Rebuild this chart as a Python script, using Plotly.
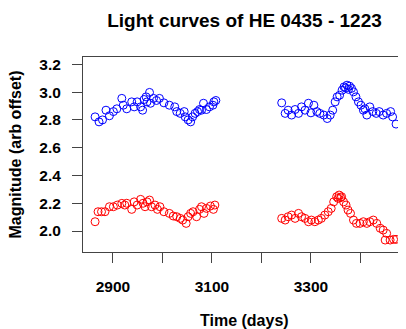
import plotly.graph_objects as go

# Blue light curve (upper)
blue_t = [2864, 2872, 2879, 2886, 2893, 2901, 2908, 2918, 2921, 2928, 2938, 2943, 2949, 2956, 2960,
          2963, 2967, 2969, 2974, 2976, 2982, 2988, 2994, 3003, 3014, 3025, 3029, 3036, 3044, 3046,
          3052, 3057, 3061, 3066, 3071, 3075, 3079, 3083, 3089, 3095, 3102, 3104, 3108,
          3241, 3248, 3254, 3261, 3268, 3275, 3281, 3288, 3295, 3300, 3306, 3312, 3318, 3326, 3333,
          3339, 3344, 3349, 3353, 3358, 3363, 3367, 3370, 3373, 3376, 3378, 3382, 3386, 3391, 3396,
          3401, 3406, 3409, 3413, 3419, 3425, 3432, 3438, 3446, 3453, 3461, 3465, 3472]
blue_m = [2.822, 2.786, 2.800, 2.870, 2.830, 2.860, 2.880, 2.955, 2.906, 2.880, 2.930, 2.894, 2.930, 2.894, 2.870,
          2.947, 2.966, 2.930, 2.998, 2.920, 2.955, 2.940, 2.955, 2.923, 2.906, 2.894, 2.860, 2.847, 2.860, 2.822,
          2.800, 2.786, 2.822, 2.847, 2.860, 2.875, 2.870, 2.920, 2.875, 2.894, 2.906, 2.930, 2.940,
          2.923, 2.847, 2.870, 2.835, 2.875, 2.847, 2.894, 2.870, 2.920, 2.851, 2.906, 2.860, 2.847, 2.835, 2.810,
          2.835, 2.870, 2.930, 2.966, 2.978, 3.014, 3.038, 3.030, 3.050, 3.020, 3.043, 3.027, 3.002, 2.966, 2.930,
          2.906, 2.870, 2.880, 2.835, 2.894, 2.860, 2.847, 2.860, 2.835, 2.847, 2.860, 2.822, 2.770]

# Red light curve (lower)
red_t = [2864, 2870, 2877, 2884, 2893, 2901, 2909, 2918, 2924, 2928, 2938, 2943, 2949, 2956, 2961,
         2965, 2969, 2974, 2978, 2985, 2990, 2995, 3003, 3014, 3022, 3029, 3036, 3041, 3048, 3052,
         3057, 3062, 3069, 3075, 3079, 3084, 3089, 3097, 3103, 3106,
         3241, 3248, 3254, 3261, 3268, 3275, 3281, 3288, 3295, 3301, 3308, 3315, 3321, 3328, 3335,
         3341, 3346, 3352, 3355, 3357, 3360, 3362, 3366, 3371, 3375, 3380, 3386, 3392, 3399, 3406,
         3413, 3419, 3426, 3433, 3440, 3446, 3450, 3453, 3460, 3467, 3472]
red_m = [2.067, 2.139, 2.139, 2.139, 2.175, 2.175, 2.187, 2.199, 2.187, 2.200, 2.156, 2.210, 2.187, 2.228, 2.200,
         2.175, 2.210, 2.223, 2.175, 2.187, 2.156, 2.175, 2.139, 2.127, 2.108, 2.103, 2.091, 2.079, 2.055, 2.103,
         2.127, 2.139, 2.103, 2.156, 2.175, 2.127, 2.163, 2.180, 2.156, 2.187,
         2.091, 2.079, 2.103, 2.115, 2.091, 2.127, 2.103, 2.091, 2.067, 2.079, 2.067, 2.079, 2.091, 2.115, 2.139,
         2.163, 2.210, 2.247, 2.235, 2.259, 2.240, 2.247, 2.210, 2.187, 2.151, 2.127, 2.079, 2.055, 2.055, 2.067,
         2.055, 2.067, 2.079, 2.055, 2.020, 2.007, 1.935, 1.983, 1.935, 1.940, 1.940]

x_tickvals = [2900, 3000, 3100, 3200, 3300, 3400]
x_ticktext = ["2900", "", "3100", "", "3300", ""]
y_tickvals = [2.0, 2.2, 2.4, 2.6, 2.8, 3.0, 3.2]
y_ticktext = ["2.0", "2.2", "2.4", "2.6", "2.8", "3.0", "3.2"]

FONT = "Liberation Sans, Arial, Helvetica, sans-serif"

# page body has an 8px margin, so figure coordinates = screen - 8
W, H = 398, 321
L, T, B = 75, 49, 77
PW, PH = W - L, H - T - B

fig = go.Figure()
fig.add_trace(go.Scatter(x=blue_t, y=blue_m, mode="markers",
                         marker=dict(symbol="circle-open", size=8, color="#0000FF",
                                     line=dict(width=1, color="#0000FF")),
                         showlegend=False))
fig.add_trace(go.Scatter(x=red_t, y=red_m, mode="markers",
                         marker=dict(symbol="circle-open", size=8, color="#FF0000",
                                     line=dict(width=1, color="#FF0000")),
                         showlegend=False))

fig.update_layout(
    width=W, height=H,
    margin=dict(l=L, r=0, t=T, b=B, pad=0),
    paper_bgcolor="white", plot_bgcolor="white",
    font=dict(family=FONT, color="black"),
    title=dict(text="Light curves of HE 0435 - 1223", x=0.5, xref="paper",
               y=1 - 12 / H, yref="container", yanchor="middle", xanchor="center",
               font=dict(size=19, weight="bold", family=FONT, color="black")),
    xaxis=dict(range=[2839.6, 3492.1], tickvals=x_tickvals, ticktext=x_ticktext,
               ticks="outside", ticklen=10, tickwidth=1, tickcolor="#444",
               showline=True, mirror=True, linecolor="#444", linewidth=1,
               showgrid=False, zeroline=False, ticklabelstandoff=10,
               tickfont=dict(size=15.5, weight="bold", family=FONT, color="black")),
    yaxis=dict(range=[1.849, 3.253], tickvals=y_tickvals, ticktext=y_ticktext,
               ticks="outside", ticklen=10, tickwidth=1, tickcolor="#444",
               showline=True, mirror=False, linecolor="#444", linewidth=1,
               showgrid=False, zeroline=False, ticklabelstandoff=8,
               tickfont=dict(size=15.5, weight="bold", family=FONT, color="black")),
    annotations=[
        dict(text="Time (days)", xref="paper", yref="paper", x=0.5, y=-(312 - (H - B)) / PH,
             xanchor="center", yanchor="middle", showarrow=False,
             font=dict(size=16, weight="bold", family=FONT, color="black")),
        dict(text="Magnitude (arb offset)", xref="paper", yref="paper", x=-(L - 7) / PW, y=0.5,
             xanchor="center", yanchor="middle", showarrow=False, textangle=-90,
             font=dict(size=16, weight="bold", family=FONT, color="black")),
    ],
)

fig.write_html("out.html")
